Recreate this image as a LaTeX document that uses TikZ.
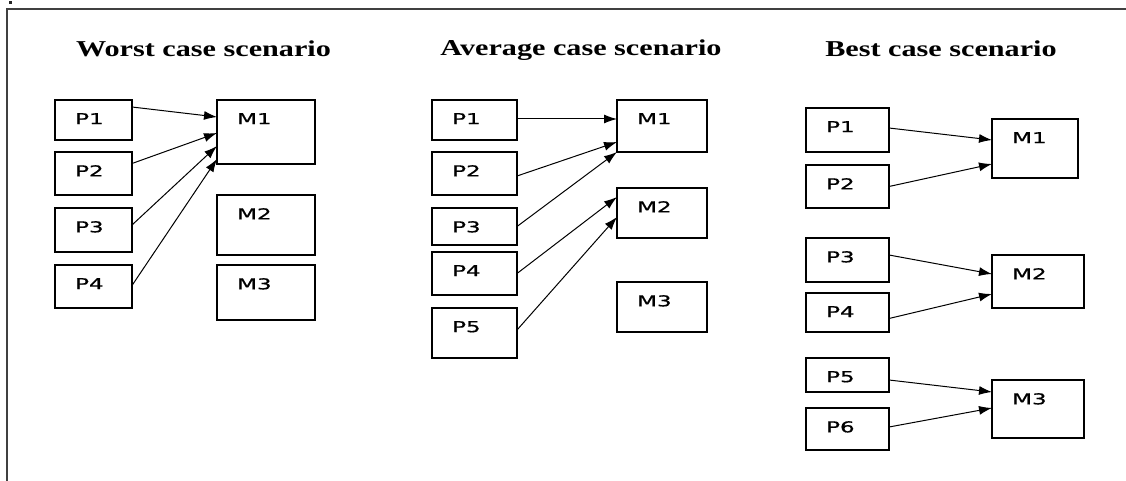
\documentclass[tikz,border=0pt]{standalone}
\usepackage{fontspec}
\setmainfont{Liberation Serif}
\newfontfamily\labelfont[FakeBold=0.6]{DejaVu Sans}
\usetikzlibrary{arrows.meta,calc}

\tikzset{
  box/.style={draw, line width=1.3pt, inner sep=0pt, outer sep=0pt, anchor=north west},
  tag/.style={anchor=north west, inner sep=0pt, xshift=20pt, yshift=-13pt,
              font=\labelfont\fontsize{15}{18}\selectfont},
  link/.style={line width=1pt, -{Latex[length=13pt,width=9pt]}},
  heading/.style={anchor=base, inner sep=0pt, font=\bfseries\fontsize{22.7}{26}\selectfont}
}
\newcommand{\wide}[1]{\scalebox{1.53}[1]{#1}}
\newcommand{\widehead}[1]{\scalebox{1.33}[1]{#1}}

\begin{document}
\begin{tikzpicture}[x=1pt,y=-1pt]
    \useasboundingbox (0,0) rectangle (1126,481);
    % frame %
    \fill[black!85] (9,1) rectangle (12,4);
    \draw[line width=2pt, black!75] (7,481) -- (7,9) -- (1126,9);

    % headings %
    \node[heading] (hworst) at (203.5,57) {\widehead{Worst case scenario}};
    \node[heading] (haverage) at (581,56) {\widehead{Average case scenario}};
    \node[heading] (hbest) at (941,57) {\widehead{Best case scenario}};

    % worst case %
    \node[box, minimum width=77pt, minimum height=40pt, label={[tag]north west:\wide{P1}}] (wp1) at (55,100) {};
    \node[box, minimum width=77pt, minimum height=43pt, label={[tag]north west:\wide{P2}}] (wp2) at (55,152) {};
    \node[box, minimum width=77pt, minimum height=44pt, label={[tag]north west:\wide{P3}}] (wp3) at (55,208) {};
    \node[box, minimum width=77pt, minimum height=43pt, label={[tag]north west:\wide{P4}}] (wp4) at (55,265) {};
    \node[box, minimum width=98pt, minimum height=64pt, label={[tag]north west:\wide{M1}}] (wm1) at (217,100) {};
    \node[box, minimum width=98pt, minimum height=60pt, label={[tag]north west:\wide{M2}}] (wm2) at (217,195) {};
    \node[box, minimum width=98pt, minimum height=55pt, label={[tag]north west:\wide{M3}}] (wm3) at (217,265) {};
    \draw[link] ($(wp1.east)+(0,-13)$) -- ($(wm1.west)+(0,-15)$);
    \draw[link] ($(wp2.east)+(0,-10)$) -- ($(wm1.west)+(0,1)$);
    \draw[link] ($(wp3.east)+(0,-5)$) -- ($(wm1.west)+(0,14)$);
    \draw[link] ($(wp4.east)+(0,-1)$) -- ($(wm1.west)+(0,27)$);

    % average case %
    \node[box, minimum width=85pt, minimum height=40pt, label={[tag]north west:\wide{P1}}] (ap1) at (432,100) {};
    \node[box, minimum width=85pt, minimum height=43pt, label={[tag]north west:\wide{P2}}] (ap2) at (432,152) {};
    \node[box, minimum width=85pt, minimum height=37pt, label={[tag]north west:\wide{P3}}] (ap3) at (432,208) {};
    \node[box, minimum width=85pt, minimum height=43pt, label={[tag]north west:\wide{P4}}] (ap4) at (432,252) {};
    \node[box, minimum width=85pt, minimum height=50pt, label={[tag]north west:\wide{P5}}] (ap5) at (432,308) {};
    \node[box, minimum width=90pt, minimum height=52pt, label={[tag]north west:\wide{M1}}] (am1) at (617,100) {};
    \node[box, minimum width=90pt, minimum height=50pt, label={[tag]north west:\wide{M2}}] (am2) at (617,188) {};
    \node[box, minimum width=90pt, minimum height=50pt, label={[tag]north west:\wide{M3}}] (am3) at (617,282) {};
    \draw[link] ($(ap1.east)+(0,-1)$) -- ($(am1.west)+(0,-7)$);
    \draw[link] ($(ap2.east)+(0,2.5)$) -- ($(am1.west)+(0,16)$);
    \draw[link] (ap3.east) -- ($(am1.west)+(0,26)$);
    \draw[link] (ap4.east) -- ($(am2.west)+(0,-16)$);
    \draw[link] ($(ap5.east)+(0,-3)$) -- ($(am2.west)+(0,4)$);

    % best case %
    \node[box, minimum width=83pt, minimum height=44pt, label={[tag]north west:\wide{P1}}] (bp1) at (806,108) {};
    \node[box, minimum width=83pt, minimum height=43pt, label={[tag]north west:\wide{P2}}] (bp2) at (806,165) {};
    \node[box, minimum width=83pt, minimum height=44pt, label={[tag]north west:\wide{P3}}] (bp3) at (806,238) {};
    \node[box, minimum width=83pt, minimum height=39pt, label={[tag]north west:\wide{P4}}] (bp4) at (806,293) {};
    \node[box, minimum width=83pt, minimum height=34pt, label={[tag]north west:\wide{P5}}] (bp5) at (806,358) {};
    \node[box, minimum width=83pt, minimum height=42pt, label={[tag]north west:\wide{P6}}] (bp6) at (806,408) {};
    \node[box, minimum width=86pt, minimum height=59pt, label={[tag]north west:\wide{M1}}] (bm1) at (992,119) {};
    \node[box, minimum width=92pt, minimum height=53pt, label={[tag]north west:\wide{M2}}] (bm2) at (992,255) {};
    \node[box, minimum width=92pt, minimum height=58pt, label={[tag]north west:\wide{M3}}] (bm3) at (992,380) {};
    \draw[link] ($(bp1.east)+(0,-2)$) -- ($(bm1.west)+(0,-8.5)$);
    \draw[link] (bp2.east) -- ($(bm1.west)+(0,15.5)$);
    \draw[link] ($(bp3.east)+(0,-5)$) -- ($(bm2.west)+(0,-7.5)$);
    \draw[link] ($(bp4.east)+(0,6)$) -- ($(bm2.west)+(0,12.5)$);
    \draw[link] ($(bp5.east)+(0,5)$) -- ($(bm3.west)+(0,-17)$);
    \draw[link] ($(bp6.east)+(0,-2)$) -- ($(bm3.west)+(0,-1)$);
\end{tikzpicture}
\end{document}
